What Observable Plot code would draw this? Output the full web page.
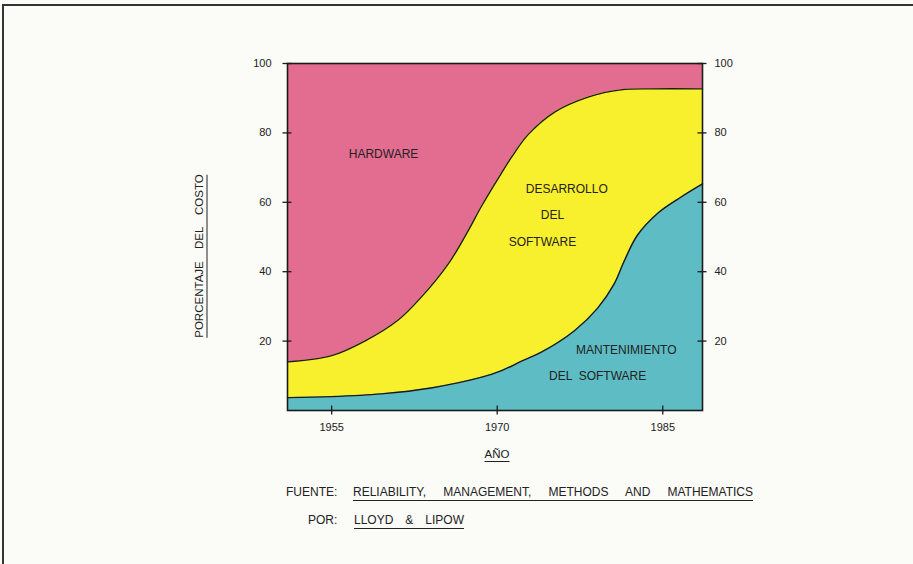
<!DOCTYPE html>
<html>
<head>
<meta charset="utf-8">
<script src="https://cdn.jsdelivr.net/npm/d3@7"></script>
<script src="https://cdn.jsdelivr.net/npm/@observablehq/plot@0.6"></script>
<style>
  html, body { margin: 0; padding: 0; background: #fbfbf8; }
  #page { position: relative; width: 913px; height: 564px; overflow: hidden; background: #fbfbf8;
          font-family: "Liberation Sans", Arial, sans-serif; color: #222; }
  #border { position: absolute; left: 2px; top: 4px; width: 930px; height: 600px; border: 2px solid #333; box-sizing: border-box; }
  #chart { position: absolute; left: 0; top: 0; }
  .lbl { position: absolute; font-size: 12px; white-space: pre; }
  .ul { border-bottom: 1.5px solid #222; padding-bottom: 1px; }
  #ylab { position: absolute; left: 200px; top: 256px; transform: translate(-50%, -50%) rotate(-90deg);
          font-size: 11.5px; white-space: pre; word-spacing: 9px; border-bottom: 1.5px solid #222; padding-bottom: 2px; }
  #xlab { position: absolute; left: 497px; top: 448px; transform: translateX(-50%); font-size: 11.5px;
          border-bottom: 1.5px solid #222; padding-bottom: 1px; }
  .just { display: inline-block; text-align: justify; text-align-last: justify; }
</style>
</head>
<body>
<div id="page">
  <div id="border"></div>
  <div id="chart"></div>
  <div id="ylab">PORCENTAJE DEL COSTO</div>
  <div id="xlab">AÑO</div>
  <div class="lbl" style="left:286px; top:485px;">FUENTE:</div>
  <div class="lbl ul just" style="left:353px; top:485px; width:400px;">RELIABILITY, MANAGEMENT, METHODS AND MATHEMATICS</div>
  <div class="lbl" style="left:308px; top:513px;">POR:</div>
  <div class="lbl ul just" style="left:354px; top:513px; width:110px;">LLOYD &amp; LIPOW</div>
</div>
<script>
// Boundary between "Desarrollo del software" and "Hardware" (cumulative % of cost)
const devYears  = [1951, 1955, 1958, 1961, 1963.1, 1965.6, 1967.4, 1968.6, 1970.4, 1971.3, 1972.8, 1975.2, 1978.3, 1981.2, 1984, 1988.6];
const devTop    = [14,   15.8, 20,   26,   32.6,   42.4,   52,     59,     68.5,   73,     79.5,   86,     90.4,   92.4,   92.7, 92.7];
// Boundary between "Mantenimiento del software" and "Desarrollo del software"
const maintYears = [1951, 1955, 1959.5, 1964, 1968.6, 1970.4, 1972.2, 1974, 1977, 1979.1, 1980.6, 1981.5, 1982.7, 1984.6, 1986.7, 1988.6];
const maintTop   = [3.7,  4,    4.8,    6.5,  9.6,    11.5,   14.2,   16.8, 23,   29.5,   36.5,   43,     50.5,   57,     61.6,   65.3];

const xTicks = [1955, 1970, 1985];
const yTicks = [20, 40, 60, 80, 100];

const labelText  = ["HARDWARE", "DESARROLLO", "DEL", "SOFTWARE", "MANTENIMIENTO", "DEL  SOFTWARE"];
const labelYear  = [1959.7, 1976.3, 1975.0, 1974.1, 1981.7, 1979.1];
const labelPct   = [73.9, 63.8, 56.3, 48.5, 17.3, 10.0];

const devData = devYears.map((x, i) => ({x, y: devTop[i]}));
const maintData = maintYears.map((x, i) => ({x, y: maintTop[i]}));
const labels = labelText.map((t, i) => ({t, x: labelYear[i], y: labelPct[i]}));

const PINK = "#e26d91", YELLOW = "#f8f02c", TEAL = "#5ebdc4";
const curve = "catmull-rom";
const INK = "#1b1b1b";
const fmt = d => String(d);

const W = 913, H = 470, ML = 287, MR = 211, MT = 63, MB = 60;
const plotW = W - ML - MR, plotH = H - MT - MB;
const T = 4.5; // half-length of the crossing tick marks

const chart = Plot.plot({
  width: W,
  height: H,
  marginLeft: ML,
  marginRight: MR,
  marginTop: MT,
  marginBottom: MB,
  style: {background: "transparent", fontFamily: "'Liberation Sans', Arial, sans-serif", color: "#222"},
  x: {domain: [1951, 1988.6]},
  y: {domain: [0, 100]},
  marks: [
    Plot.frame({fill: PINK}),
    Plot.areaY(devData, {x: "x", y: "y", fill: YELLOW, curve}),
    Plot.areaY(maintData, {x: "x", y: "y", fill: TEAL, curve}),
    Plot.lineY(devData, {x: "x", y: "y", stroke: INK, strokeWidth: 1.4, curve}),
    Plot.lineY(maintData, {x: "x", y: "y", stroke: INK, strokeWidth: 1.4, curve}),
    Plot.frame({stroke: INK, strokeWidth: 1.6}),
    // crossing tick marks on both y axes and the x axis
    Plot.ruleY(yTicks, {y: d => d, insetRight: plotW - 2 * T, dx: -T, stroke: INK, strokeWidth: 1.3}),
    Plot.ruleY(yTicks, {y: d => d, insetLeft: plotW - 2 * T, dx: T, stroke: INK, strokeWidth: 1.3}),
    Plot.ruleX(xTicks, {x: d => d, insetTop: plotH - 2 * T, dy: T, stroke: INK, strokeWidth: 1.3}),
    // tick labels
    Plot.axisY({anchor: "left", ticks: yTicks, tickSize: 0, tickPadding: 16, fontSize: 11, color: "#222", tickFormat: fmt, label: null}),
    Plot.axisY({anchor: "right", ticks: yTicks, tickSize: 0, tickPadding: 12, fontSize: 11, color: "#222", tickFormat: fmt, label: null}),
    Plot.axisX({anchor: "bottom", ticks: xTicks, tickSize: 0, tickPadding: 13, fontSize: 11, color: "#222", tickFormat: fmt, label: null}),
    Plot.text(labels, {x: "x", y: "y", text: "t", fontSize: 12, fill: "#222"})
  ]
});
document.getElementById("chart").appendChild(chart);
</script>
</body>
</html>
